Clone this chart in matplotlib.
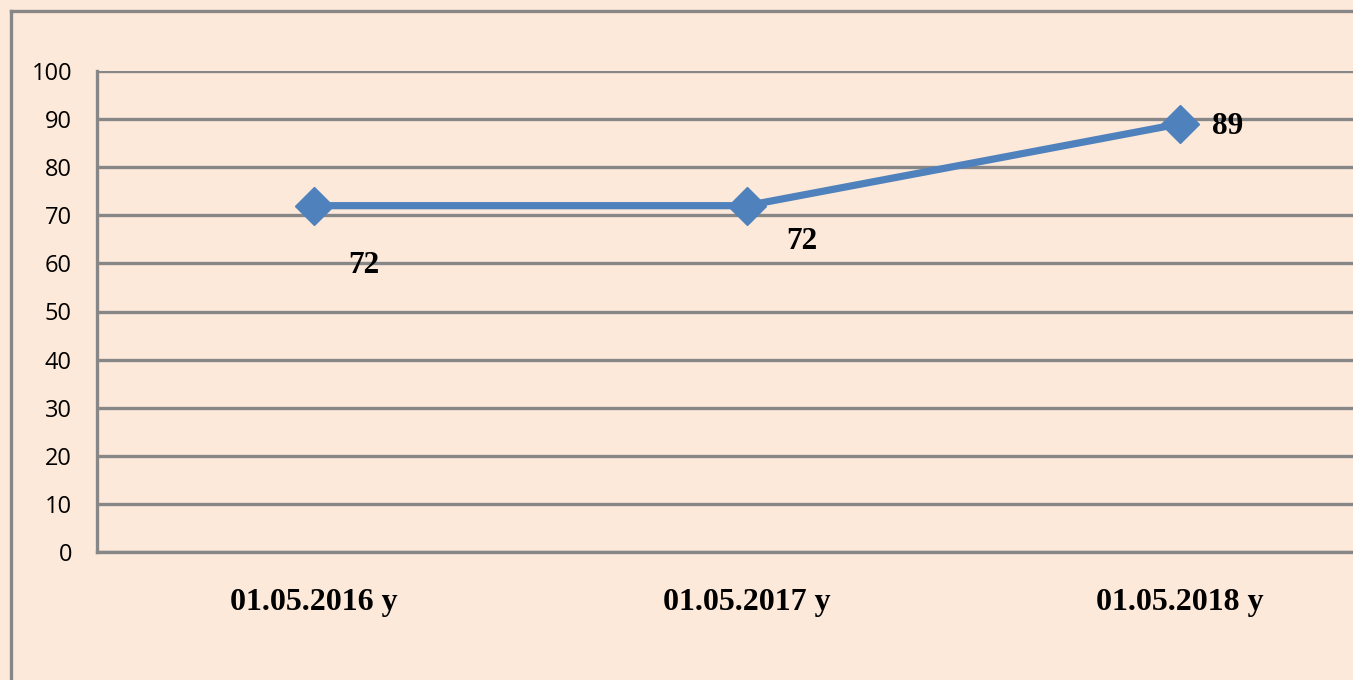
import matplotlib
matplotlib.use("Agg")
import matplotlib.pyplot as plt
from matplotlib.lines import Line2D

categories = ["01.05.2016 y", "01.05.2017 y", "01.05.2018 y"]
values = [72, 72, 89]
yticks = [0, 10, 20, 30, 40, 50, 60, 70, 80, 90, 100]
label_offsets_px = [(50, -60), (55, -36), (48, -3)]

BG = "#FDE9D9"
GRID = "#878787"
LINE = "#4F81BD"

W, H = 1353, 680
fig = plt.figure(figsize=(W / 100, H / 100), dpi=100, facecolor=BG)
ax = fig.add_axes([97 / W, (H - 552) / H, 1299 / W, (552 - 71) / H])
ax.set_facecolor(BG)

x = [i + 0.5 for i in range(len(categories))]
ax.set_xlim(0, len(categories))
ax.set_ylim(0, 100)
ax.set_yticks(yticks)
ax.yaxis.grid(True, color=GRID, linewidth=2.4)
ax.set_axisbelow(True)
for s in ["top", "right"]:
    ax.spines[s].set_visible(False)
ax.spines["left"].set_color(GRID)
ax.spines["left"].set_linewidth(2.4)
ax.spines["bottom"].set_color(GRID)
ax.spines["bottom"].set_linewidth(2.4)
ax.tick_params(axis="y", length=0, pad=18, labelsize=17)
ax.tick_params(axis="x", length=0, pad=26)
for t in ax.get_yticklabels():
    t.set_fontfamily("Open Sans")
ax.set_xticks(x)
ax.set_xticklabels(categories, fontfamily="Liberation Serif", fontweight="bold", fontsize=23)

ax.plot(x, values, color=LINE, linewidth=5.2, marker="D", markersize=19,
        markerfacecolor=LINE, markeredgecolor=LINE, markeredgewidth=1, zorder=3,
        clip_on=False)

for xi, v, (dx, dy) in zip(x, values, label_offsets_px):
    ax.annotate(str(v), (xi, v), xytext=(dx, dy), textcoords="offset pixels",
                ha="center", va="center", fontfamily="Liberation Serif",
                fontweight="bold", fontsize=22.5)

x0 = 10.5 / W
y0 = 1 - 11 / H
fig.add_artist(Line2D([x0, x0], [-0.1, y0], color=GRID, linewidth=2.4,
                      solid_capstyle="projecting"))
fig.add_artist(Line2D([x0, 1.1], [y0, y0], color=GRID, linewidth=2.4,
                      solid_capstyle="projecting"))

fig.savefig("out.png", dpi=100, facecolor=BG)
